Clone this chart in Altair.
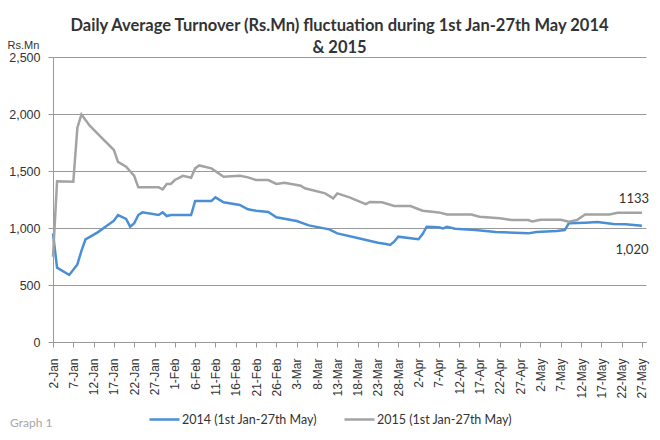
import altair as alt
import pandas as pd

# ---- data ----
dates_2014 = ["01-02","01-03","01-06","01-08","01-09","01-10","01-13","01-17","01-18","01-20",
              "01-21","01-22","01-23","01-24","01-28","01-29","01-30","01-31","02-05","02-06",
              "02-10","02-11","02-13","02-17","02-19","02-21","02-24","02-26","03-03","03-06",
              "03-11","03-13","03-18","03-23","03-25","03-26","03-27","03-28","04-01","04-02",
              "04-03","04-04","04-07","04-08","04-09","04-11","04-16","04-21","04-29","05-01",
              "05-06","05-08","05-09","05-13","05-16","05-20","05-23","05-27"]
vals_2014 = [953,652,588,680,800,900,962,1064,1114,1079,
             1011,1041,1114,1137,1114,1137,1105,1114,1114,1237,
             1237,1269,1225,1202,1164,1152,1140,1094,1061,1023,
             988,953,912,871,859,851,880,924,906,901,
             947,1011,1006,997,1011,994,982,965,953,965,
             973,982,1041,1046,1052,1035,1032,1020]

dates_2015 = ["01-02","01-03","01-07","01-08","01-09","01-11","01-14","01-17","01-18","01-20",
              "01-22","01-23","01-28","01-29","01-30","01-31","02-01","02-03","02-05","02-06",
              "02-07","02-10","02-13","02-17","02-19","02-21","02-24","02-26","02-28","03-04",
              "03-05","03-10","03-12","03-13","03-16","03-20","03-21","03-24","03-27","03-31",
              "04-03","04-07","04-09","04-15","04-17","04-22","04-25","04-29","04-30","05-02",
              "05-07","05-09","05-11","05-13","05-19","05-21","05-27"]
vals_2015 = [748,1410,1405,1880,1995,1900,1790,1684,1580,1538,
             1456,1357,1357,1339,1386,1386,1421,1458,1441,1523,
             1549,1523,1450,1458,1444,1421,1421,1386,1397,1371,
             1348,1304,1260,1304,1269,1210,1228,1225,1193,1193,
             1152,1137,1118,1118,1099,1085,1070,1070,1058,1073,
             1073,1055,1070,1118,1118,1133,1133]

series_names = ["2014 (1st Jan-27th May)", "2015 (1st Jan-27th May)"]
series_colors = ["#4a8fd6", "#a3a3a3"]

tick_dates = ["01-02","01-07","01-12","01-17","01-22","01-27","02-01","02-06","02-11","02-16",
              "02-21","02-26","03-03","03-08","03-13","03-18","03-23","03-28","04-02","04-07",
              "04-12","04-17","04-22","04-27","05-02","05-07","05-12","05-17","05-22","05-27"]
y_ticks = [0, 500, 1000, 1500, 2000, 2500]

end_labels = ["1,020", "1133"]
end_values = [1020, 1133]

YEAR = 2015
def ts(md):
    return f"{YEAR}-{md}T00:00:00"

df = pd.concat([
    pd.DataFrame({"date": [ts(d) for d in dates_2014], "value": vals_2014, "series": series_names[0]}),
    pd.DataFrame({"date": [ts(d) for d in dates_2015], "value": vals_2015, "series": series_names[1]}),
])

lab_df = pd.DataFrame({"date": [ts("05-27")] * 2, "value": end_values, "label": end_labels})

def dt(md):
    m, d = md.split("-")
    return alt.DateTime(year=YEAR, month=int(m), date=int(d))

x_enc = alt.X(
    "date:T",
    scale=alt.Scale(domain=[dt("01-02"), dt("05-28")]),
    axis=alt.Axis(
        values=[dt(t) for t in tick_dates],
        format="%-d-%b",
        labelAngle=-90,
        labelOverlap=False,
        labelFont="Liberation Sans",
        labelFontSize=12,
        labelColor="#333333",
        labelPadding=11,
        tickSize=5,
        tickColor="#999999",
        domainColor="#999999",
        grid=False,
        title=None,
    ),
)
y_enc = alt.Y(
    "value:Q",
    scale=alt.Scale(domain=[0, 2500], nice=False),
    axis=alt.Axis(
        values=y_ticks,
        format=",.0f",
        labelFont="Liberation Sans",
        labelFontSize=12.5,
        labelColor="#333333",
        labelPadding=8,
        tickSize=5,
        tickColor="#999999",
        domainColor="#999999",
        gridColor="#999999",
        gridWidth=1,
        title="Rs.Mn",
        titleAngle=0,
        titleAlign="left",
        titleBaseline="middle",
        titleX=-46,
        titleY=-12,
        titleFont="Liberation Sans",
        titleFontSize=11,
        titleFontWeight="normal",
        titleColor="#333333",
    ),
)

lines = alt.Chart(df).mark_line(strokeWidth=2.5).encode(
    x=x_enc,
    y=y_enc,
    color=alt.Color(
        "series:N",
        scale=alt.Scale(domain=series_names, range=series_colors),
        legend=alt.Legend(
            orient="none",
            legendX=95,
            legendY=346,
            direction="horizontal",
            symbolType="stroke",
            symbolSize=900,
            symbolStrokeWidth=2.5,
            labelFont="Lato",
            labelFontSize=12.5,
            labelColor="#333333",
            labelOffset=1,
            columnPadding=22,
            title=None,
        ),
    ),
)

lab_hi = alt.Chart(lab_df).transform_filter(alt.datum.value > 1100).mark_text(
    font="Lato", fontSize=13, color="#333333", dx=-8, dy=-14
).encode(x=x_enc, y=y_enc, text="label:N")

lab_lo = alt.Chart(lab_df).transform_filter(alt.datum.value < 1100).mark_text(
    font="Lato", fontSize=13, color="#333333", dx=-10, dy=24
).encode(x=x_enc, y=y_enc, text="label:N")

note = alt.Chart(pd.DataFrame({"t": ["Graph 1"]})).mark_text(
    font="Lato", fontSize=12, color="#a6a6a6", align="left", baseline="middle"
).encode(x=alt.value(-43), y=alt.value(366), text="t:N")

chart = alt.layer(lines, lab_hi, lab_lo, note).properties(
    width=593,
    height=285,
    padding={"left": 45, "top": 49, "right": 4, "bottom": 95},
    autosize=alt.AutoSizeParams(type="none"),
    title=alt.TitleParams(
        text=["Daily Average Turnover (Rs.Mn) fluctuation during 1st Jan-27th May  2014", "& 2015"],
        font="Lato",
        fontSize=16.5,
        fontWeight="bold",
        color="#333333",
        anchor="middle",
        frame="group",
        dx=-10,
        offset=-17,
        lineHeight=22,
    ),
).configure_view(stroke=None)

chart.save("out.html", embed_options={"renderer": "svg", "actions": False})
